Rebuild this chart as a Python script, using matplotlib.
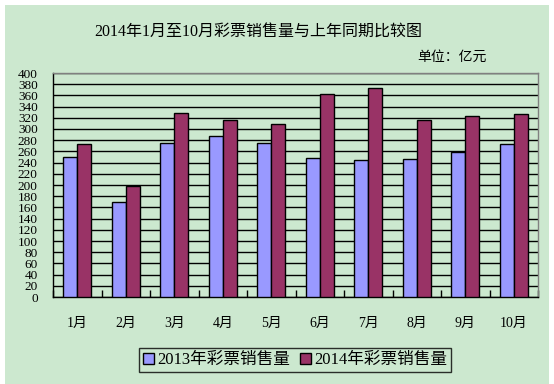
import matplotlib
matplotlib.use("Agg")
import matplotlib.pyplot as plt
import numpy as np
from matplotlib.patches import Rectangle

plt.rcParams['font.family'] = ['Liberation Serif', 'Noto Sans CJK SC']

months = ['1月', '2月', '3月', '4月', '5月', '6月', '7月', '8月', '9月', '10月']
sales_2013 = [250, 169, 275, 288, 275, 248, 245, 246, 259, 273]
sales_2014 = [273, 199, 329, 316, 309, 362, 373, 316, 323, 327]
series_names = ['2013年彩票销售量', '2014年彩票销售量']
yticks = list(range(0, 401, 20))

W, H = 554, 384
fig = plt.figure(figsize=(W / 100, H / 100), dpi=100)
fig.patch.set_facecolor('white')
bg = '#CCE8CF'
fig.patches.append(Rectangle((5 / W, 0), (549 - 5) / W, (H - 5) / H,
                             transform=fig.transFigure, facecolor=bg,
                             edgecolor='none', zorder=-10))

ax = fig.add_axes([53 / W, 87 / H, (538 - 53) / W, (297 - 73) / H])
ax.set_facecolor(bg)

x = np.arange(len(months))
bw = 0.29
ax.bar(x - bw / 2, sales_2013, bw, color='#9999FF', edgecolor='black',
       linewidth=1.0, label=series_names[0], zorder=3)
ax.bar(x + bw / 2, sales_2014, bw, color='#993366', edgecolor='black',
       linewidth=1.0, label=series_names[1], zorder=3)

ax.set_xlim(-0.5, len(months) - 0.5)
ax.set_ylim(0, 400)
ax.set_yticks(yticks)
ax.set_yticklabels([str(v) for v in yticks], fontsize=9.5)
ax.yaxis.grid(True, color='black', linewidth=1.0, zorder=1)
ax.set_axisbelow(True)
ax.tick_params(axis='y', length=0, pad=11)

ax.set_xticks(x)
ax.set_xticklabels(months, fontsize=10)
ax.tick_params(axis='x', length=0, pad=14)
ax.set_xticks(np.arange(-0.5, len(months), 1), minor=True)
ax.tick_params(axis='x', which='minor', direction='in', length=5,
               width=1.0, color='black')

for s in ['left', 'bottom']:
    ax.spines[s].set_color('black')
    ax.spines[s].set_linewidth(1.0)
for s in ['top', 'right']:
    ax.spines[s].set_color('#808080')
    ax.spines[s].set_linewidth(1.0)

fig.text(258 / W, 1 - 33 / H, '2014年1月至10月彩票销售量与上年同期比较图',
         ha='center', va='center', fontsize=11.5)
fig.text(487 / W, 1 - 57 / H, '单位：亿元', ha='right', va='center',
         fontsize=10)

leg = fig.legend(loc='center', bbox_to_anchor=(295 / W, 1 - 360 / H),
                 ncol=2, fontsize=12, frameon=True, fancybox=False,
                 handlelength=0.65, handleheight=0.65, handletextpad=0.2,
                 columnspacing=0.6, borderpad=0.25)
leg.get_frame().set_edgecolor('black')
leg.get_frame().set_facecolor(bg)
leg.get_frame().set_linewidth(1.0)

fig.savefig('out.png', dpi=100, facecolor='white')
